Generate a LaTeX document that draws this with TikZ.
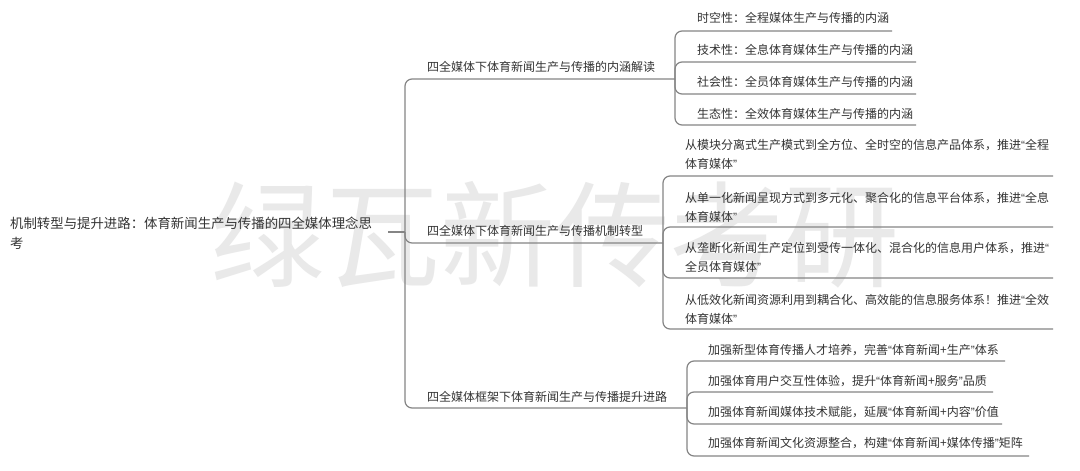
\documentclass[tikz,border=0pt]{standalone}
\usepackage{fontspec}
\setmainfont{Noto Sans CJK SC}
\newfontfamily\latq{Liberation Sans}
\newcommand\qo{{\latq “}}
\newcommand\qc{{\latq ”}}
\definecolor{txt}{HTML}{333333}
\definecolor{ln}{HTML}{858585}
\definecolor{wm}{HTML}{E9E9E9}
\begin{document}
\begin{tikzpicture}[x=1pt,y=-1pt,
  lbl/.style={anchor=west,inner sep=0pt,text=txt,font=\fontsize{12}{19}\selectfont,align=left},
  rootlbl/.style={anchor=west,inner sep=0pt,text=txt,font=\fontsize{13.4}{20}\selectfont,align=left},
  conn/.style={draw=ln,line width=1.2pt,rounded corners=7pt},
  uline/.style={draw=ln,line width=1.2pt}]
\useasboundingbox (0,0) rectangle (1080,471);
\fill[white] (0,0) rectangle (1080,471);
% watermark
\node[text=wm,inner sep=0pt,font=\fontsize{115}{115}\selectfont] (wm) at (555,235) {绿瓦新传考研};

% root
\node[rootlbl] (root) at (10,233) {机制转型与提升进路：体育新闻生产与传播的四全媒体理念思\\考};
\coordinate (rs) at (388,232);
\coordinate (rj) at (405,232);
\draw[uline] (rs) -- (rj);

% branch 1
\coordinate (b1) at (675,79);
\draw[conn] (rj) |- (b1);
\node[lbl] (t1) at (427,67) {四全媒体下体育新闻生产与传播的内涵解读};
\coordinate (l11) at (892,31);
\coordinate (l12) at (916,62);
\coordinate (l13) at (916,94);
\coordinate (l14) at (916,125);
\draw[conn] (b1) |- (l11);
\draw[conn] (b1) |- (l12);
\draw[conn] (b1) |- (l13);
\draw[conn] (b1) |- (l14);
\node[lbl] (t11) at (697,18) {时空性：全程媒体生产与传播的内涵};
\node[lbl] (t12) at (697,50) {技术性：全息体育媒体生产与传播的内涵};
\node[lbl] (t13) at (697,82) {社会性：全员体育媒体生产与传播的内涵};
\node[lbl] (t14) at (697,114) {生态性：全效体育媒体生产与传播的内涵};

% branch 2
\coordinate (b2) at (663,243);
\draw[conn] (rj) |- (b2);
\node[lbl] (t2) at (427,231) {四全媒体下体育新闻生产与传播机制转型};
\coordinate (l21) at (1053,176);
\coordinate (l22) at (1053,227);
\coordinate (l23) at (1053,278);
\coordinate (l24) at (1053,329);
\draw[conn] (b2) |- (l21);
\draw[conn] (b2) |- (l22);
\draw[conn] (b2) |- (l23);
\draw[conn] (b2) |- (l24);
\node[lbl] (t21) at (685,154.5) {从模块分离式生产模式到全方位、全时空的信息产品体系，推进\qo 全程\\体育媒体\qc};
\node[lbl] (t22) at (685,207) {从单一化新闻呈现方式到多元化、聚合化的信息平台体系，推进\qo 全息\\体育媒体\qc};
\node[lbl] (t23) at (685,257.5) {从垄断化新闻生产定位到受传一体化、混合化的信息用户体系，推进\qo\\全员体育媒体\qc};
\node[lbl] (t24) at (685,309) {从低效化新闻资源利用到耦合化、高效能的信息服务体系！推进\qo 全效\\体育媒体\qc};

% branch 3
\coordinate (b3) at (687,408);
\draw[conn] (rj) |- (b3);
\node[lbl] (t3) at (427,397) {四全媒体框架下体育新闻生产与传播提升进路};
\coordinate (l31) at (1005,361);
\coordinate (l32) at (993,392);
\coordinate (l33) at (1002,424);
\coordinate (l34) at (1029,456);
\draw[conn] (b3) |- (l31);
\draw[conn] (b3) |- (l32);
\draw[conn] (b3) |- (l33);
\draw[conn] (b3) |- (l34);
\node[lbl] (t31) at (708,350) {加强新型体育传播人才培养，完善\qo 体育新闻+生产\qc 体系};
\node[lbl] (t32) at (708,381) {加强体育用户交互性体验，提升\qo 体育新闻+服务\qc 品质};
\node[lbl] (t33) at (708,412) {加强体育新闻媒体技术赋能，延展\qo 体育新闻+内容\qc 价值};
\node[lbl] (t34) at (708,443) {加强体育新闻文化资源整合，构建\qo 体育新闻+媒体传播\qc 矩阵};
\end{tikzpicture}
\end{document}
